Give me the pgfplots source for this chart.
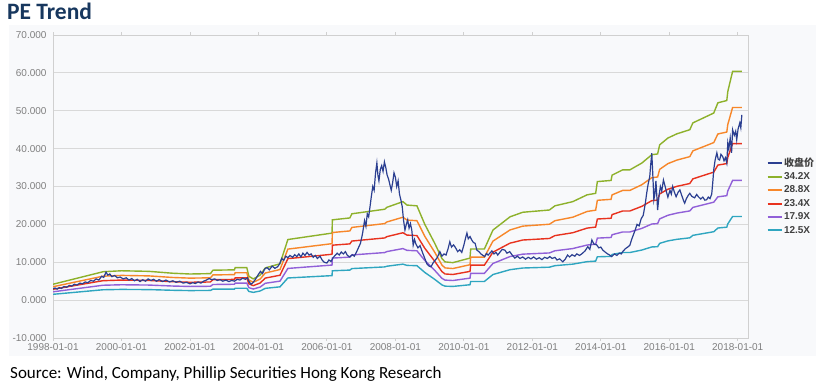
\documentclass[border=0pt]{standalone}
\usepackage{fontspec}
\setmainfont{Liberation Sans}
\newfontfamily\calibri{Carlito}
\newfontfamily\cjk{Noto Sans CJK SC}
\usepackage{pgfplots}
\usepackage{pgfplotstable}
\pgfplotsset{compat=1.18}
\usetikzlibrary{backgrounds}

\definecolor{bgc}{HTML}{F8F9FB}
\definecolor{titlec}{HTML}{17375E}
\definecolor{cclose}{HTML}{2B3F91}
\definecolor{cgreen}{HTML}{8DB12B}
\definecolor{corange}{HTML}{F7872A}
\definecolor{cred}{HTML}{E8321E}
\definecolor{cpurple}{HTML}{9160D8}
\definecolor{cteal}{HTML}{2FA6C0}
\definecolor{gridc}{HTML}{D9D9D9}
\definecolor{axisc}{HTML}{D0D0D0}
\definecolor{tickc}{HTML}{808080}
\definecolor{legc}{HTML}{404040}

\pgfplotstableread{
year g o r p t
1998.00 4.2 3.54 2.87 2.20 1.54
1999.46 7.5 6.32 5.13 3.93 2.74
2000.00 7.75 6.53 5.30 4.06 2.83
2000.80 7.6 6.40 5.20 3.98 2.78
2001.50 7.1 5.98 4.86 3.72 2.60
2002.00 6.9 5.81 4.72 3.61 2.52
2002.60 7.0 5.89 4.79 3.66 2.56
2002.67 7.9 6.65 5.41 4.13 2.89
2003.30 8.0 6.74 5.47 4.19 2.92
2003.32 8.6 7.24 5.88 4.50 3.14
2003.66 8.6 7.24 5.88 4.50 3.14
2003.72 6.3 5.31 4.31 3.30 2.30
2003.85 5.6 4.72 3.83 2.93 2.05
2004.05 6.6 5.56 4.52 3.45 2.41
2004.20 8.5 7.16 5.82 4.45 3.11
2004.63 9.6 8.08 6.57 5.02 3.51
2004.86 16.0 13.47 10.95 8.37 5.85
2006.15 17.7 14.91 12.11 9.26 6.47
2006.16 21.2 17.85 14.51 11.10 7.75
2006.67 21.7 18.27 14.85 11.36 7.93
2006.73 22.8 19.20 15.60 11.93 8.33
2007.69 24.0 20.21 16.42 12.56 8.77
2007.75 24.5 20.63 16.76 12.82 8.95
2008.22 26.0 21.89 17.79 13.61 9.50
2008.34 25.1 21.14 17.17 13.14 9.17
2008.63 24.9 20.97 17.04 13.03 9.10
2008.86 20.0 16.84 13.68 10.47 7.31
2009.15 15.0 12.63 10.26 7.85 5.48
2009.36 11.0 9.26 7.53 5.76 4.02
2009.45 10.1 8.51 6.91 5.29 3.69
2009.68 9.9 8.34 6.77 5.18 3.62
2010.18 11.1 9.35 7.59 5.81 4.06
2010.20 13.5 11.37 9.24 7.07 4.93
2010.60 13.5 11.37 9.24 7.07 4.93
2010.85 18.5 15.58 12.66 9.68 6.76
2011.35 22.0 18.53 15.05 11.51 8.04
2011.72 23.2 19.54 15.87 12.14 8.48
2012.50 23.8 20.04 16.28 12.46 8.70
2012.66 24.9 20.97 17.04 13.03 9.10
2013.18 26.0 21.89 17.79 13.61 9.50
2013.60 27.8 23.41 19.02 14.55 10.16
2013.85 28.2 23.75 19.29 14.76 10.31
2013.90 31.3 26.36 21.42 16.38 11.44
2014.30 31.6 26.61 21.62 16.54 11.55
2014.33 33.0 27.79 22.58 17.27 12.06
2014.64 34.4 28.97 23.54 18.00 12.57
2014.85 34.4 28.97 23.54 18.00 12.57
2015.20 36.2 30.48 24.77 18.95 13.23
2015.49 38.4 32.34 26.27 20.10 14.04
2015.66 38.6 32.51 26.41 20.20 14.11
2015.72 41.0 34.53 28.05 21.46 14.99
2015.96 42.8 36.04 29.28 22.40 15.64
2016.22 43.9 36.97 30.04 22.98 16.05
2016.60 45.0 37.89 30.79 23.55 16.45
2016.69 46.8 39.41 32.02 24.49 17.11
2017.30 49.4 41.60 33.80 25.86 18.06
2017.42 52.1 43.87 35.65 27.27 19.04
2017.68 52.7 44.38 36.06 27.58 19.26
2017.71 55.1 46.40 37.70 28.84 20.14
2017.85 60.4 50.86 41.33 31.61 22.08
2018.12 60.4 50.86 41.33 31.61 22.08
}\bands

\pgfplotstableread{
year v
1998.00 3.0
1998.06 3.2
1998.12 2.9
1998.18 3.3
1998.25 3.1
1998.32 3.6
1998.40 3.4
1998.48 3.9
1998.55 3.7
1998.62 4.2
1998.70 4.0
1998.79 4.5
1998.86 4.3
1998.94 4.8
1999.02 4.6
1999.10 5.2
1999.18 5.0
1999.26 5.6
1999.34 5.3
1999.42 6.3
1999.48 6.0
1999.55 7.4
1999.60 6.6
1999.66 6.9
1999.72 6.2
1999.80 6.5
1999.88 5.9
1999.96 6.1
2000.05 5.6
2000.14 5.9
2000.22 5.3
2000.30 5.7
2000.38 5.1
2000.46 5.5
2000.54 4.9
2000.62 5.4
2000.70 5.0
2000.78 5.6
2000.86 5.2
2000.94 5.5
2001.02 5.0
2001.10 5.4
2001.20 4.9
2001.30 5.3
2001.40 4.8
2001.50 5.1
2001.60 4.7
2001.70 5.0
2001.80 4.5
2001.90 4.7
2002.00 4.3
2002.08 4.6
2002.16 4.4
2002.24 4.8
2002.32 4.5
2002.40 5.0
2002.48 5.3
2002.56 5.7
2002.64 5.4
2002.72 5.6
2002.80 5.2
2002.88 5.4
2002.96 5.0
2003.05 5.3
2003.14 4.9
2003.22 5.2
2003.30 5.0
2003.38 5.5
2003.46 5.3
2003.54 5.8
2003.62 5.5
2003.68 5.9
2003.72 5.0
2003.78 4.2
2003.84 4.6
2003.92 5.6
2004.00 6.8
2004.06 7.6
2004.12 7.0
2004.18 8.2
2004.25 8.6
2004.32 8.0
2004.40 9.0
2004.48 8.4
2004.56 8.8
2004.62 9.6
2004.68 11.0
2004.74 10.5
2004.80 11.6
2004.86 11.2
2004.92 11.8
2005.00 11.3
2005.06 12.0
2005.12 11.5
2005.18 12.2
2005.24 11.4
2005.30 12.4
2005.36 11.8
2005.42 12.6
2005.48 11.9
2005.54 12.2
2005.60 11.3
2005.66 11.8
2005.72 11.0
2005.80 11.6
2005.86 10.6
2005.92 10.0
2006.00 9.8
2006.06 10.6
2006.12 10.2
2006.18 11.2
2006.24 11.8
2006.30 12.4
2006.36 11.9
2006.42 12.7
2006.48 12.2
2006.54 12.8
2006.60 11.8
2006.67 11.4
2006.74 12.0
2006.80 11.6
2006.86 12.6
2006.92 13.8
2006.98 15.0
2007.04 17.5
2007.10 21.0
2007.14 19.5
2007.18 22.8
2007.22 22.0
2007.26 24.7
2007.30 27.5
2007.34 30.0
2007.38 29.0
2007.42 33.5
2007.46 36.2
2007.49 33.0
2007.52 31.5
2007.56 34.5
2007.60 35.5
2007.64 34.0
2007.68 36.5
2007.72 35.0
2007.76 33.0
2007.80 32.0
2007.84 30.5
2007.88 29.0
2007.92 31.0
2007.96 33.6
2008.00 32.5
2008.04 30.0
2008.08 31.5
2008.12 28.0
2008.16 26.5
2008.20 24.7
2008.24 21.0
2008.28 18.5
2008.32 20.0
2008.36 21.2
2008.40 19.0
2008.44 20.2
2008.48 18.5
2008.52 14.5
2008.56 16.0
2008.60 14.8
2008.66 13.8
2008.72 14.4
2008.80 12.4
2008.86 11.0
2008.92 9.6
2008.98 9.0
2009.04 8.8
2009.10 9.8
2009.16 10.5
2009.22 11.2
2009.30 12.8
2009.36 11.6
2009.42 12.2
2009.48 11.9
2009.54 13.6
2009.59 15.4
2009.64 14.0
2009.70 14.6
2009.76 13.8
2009.82 12.8
2009.88 13.3
2009.94 12.6
2010.00 14.5
2010.05 16.4
2010.09 17.7
2010.13 16.2
2010.18 16.8
2010.23 15.9
2010.28 15.2
2010.33 15.0
2010.38 13.2
2010.44 12.8
2010.50 12.2
2010.56 11.8
2010.61 11.5
2010.66 12.3
2010.71 11.9
2010.76 12.4
2010.82 13.0
2010.88 12.2
2010.94 12.6
2010.99 11.9
2011.05 12.6
2011.12 13.4
2011.20 13.2
2011.26 12.4
2011.34 12.8
2011.42 11.8
2011.49 11.1
2011.56 11.6
2011.64 11.0
2011.72 11.4
2011.80 10.8
2011.88 11.3
2011.96 10.9
2012.04 11.4
2012.12 10.8
2012.20 11.2
2012.28 10.7
2012.36 11.3
2012.44 11.0
2012.51 11.5
2012.58 11.0
2012.66 11.3
2012.72 10.6
2012.80 10.9
2012.89 10.1
2012.96 10.8
2013.03 11.9
2013.09 11.4
2013.16 12.0
2013.24 11.6
2013.30 12.2
2013.38 11.8
2013.47 12.4
2013.54 13.0
2013.62 14.1
2013.68 13.4
2013.74 15.9
2013.80 14.8
2013.88 14.6
2013.94 13.8
2014.00 14.0
2014.06 13.2
2014.14 12.6
2014.20 12.2
2014.26 11.9
2014.32 11.5
2014.40 12.2
2014.47 11.8
2014.54 12.4
2014.60 12.2
2014.64 12.8
2014.72 13.6
2014.80 14.1
2014.85 14.5
2014.90 16.0
2014.95 17.2
2015.00 18.4
2015.06 20.0
2015.12 19.6
2015.18 21.5
2015.24 22.4
2015.30 25.5
2015.34 28.2
2015.38 30.5
2015.43 32.6
2015.46 36.0
2015.49 38.8
2015.52 33.0
2015.55 26.5
2015.58 28.0
2015.61 31.5
2015.64 27.0
2015.66 23.8
2015.70 27.5
2015.74 30.0
2015.78 28.8
2015.83 31.7
2015.88 30.0
2015.92 28.5
2015.96 27.2
2016.02 29.0
2016.06 28.0
2016.10 30.0
2016.15 28.5
2016.20 27.3
2016.26 28.5
2016.31 29.1
2016.37 27.5
2016.42 26.2
2016.45 25.6
2016.50 26.8
2016.55 27.6
2016.60 28.2
2016.66 27.4
2016.74 27.0
2016.80 27.9
2016.86 27.2
2016.92 26.7
2016.98 27.2
2017.04 26.4
2017.09 26.5
2017.14 27.2
2017.19 26.8
2017.24 28.0
2017.27 31.0
2017.30 34.5
2017.34 37.0
2017.39 38.9
2017.43 37.2
2017.47 37.0
2017.51 38.5
2017.56 37.9
2017.60 36.8
2017.64 37.6
2017.68 36.2
2017.71 41.5
2017.74 40.0
2017.78 42.8
2017.82 38.9
2017.85 45.0
2017.90 43.5
2017.94 44.6
2017.97 42.3
2018.01 45.2
2018.06 46.8
2018.09 45.5
2018.12 48.9
}\closep

\begin{document}
\begin{tikzpicture}
\useasboundingbox (0pt,0pt) rectangle (816pt,384pt);
\begin{scope}[on background layer]
\fill[bgc] (9pt,28pt) rectangle (816pt,359pt);
\end{scope}
\begin{axis}[
  at={(53pt,46pt)}, anchor=south west,
  scale only axis, width=695pt, height=303pt,
  xmin=1998, xmax=2018.3, ymin=-10, ymax=70,
  xtick={1998,2000,...,2018},
  xticklabels={1998-01-01,2000-01-01,2002-01-01,2004-01-01,2006-01-01,2008-01-01,2010-01-01,2012-01-01,2014-01-01,2016-01-01,2018-01-01},
  ytick={-10,0,...,70},
  yticklabel style={/pgf/number format/.cd, fixed, fixed zerofill, precision=3, 1000 sep={}, assume math mode=true},
  ticklabel style={font=\fontsize{10}{12}\selectfont, text=tickc},
  xticklabel style={yshift=1pt},
  ymajorgrids, grid style={gridc, line width=1pt},
  axis line style={axisc, line width=1pt},
  tick align=outside, xtick style={axisc, line width=0.8pt}, major tick length=3pt,
  ytick style={draw=none},
  clip=true,
  legend style={at={(1.022,0.608)}, anchor=north west, draw=none, fill=none,
    font=\fontsize{10}{12}\selectfont\bfseries, row sep=1.9pt,
    nodes={inner sep=1.5pt, text=legc}},
  legend cell align=left,
  legend image code/.code={\draw[#1, line width=2pt] (0pt,0pt) -- (14pt,0pt);},
]
\addlegendimage{cclose}
\addlegendentry{{\cjk 收盘价}}
\addplot[cgreen, line width=1.4pt] table[x=year,y=g]{\bands};
\addlegendentry{34.2X}
\addplot[corange, line width=1.4pt] table[x=year,y=o]{\bands};
\addlegendentry{28.8X}
\addplot[cred, line width=1.4pt] table[x=year,y=r]{\bands};
\addlegendentry{23.4X}
\addplot[cpurple, line width=1.4pt] table[x=year,y=p]{\bands};
\addlegendentry{17.9X}
\addplot[cteal, line width=1.4pt] table[x=year,y=t]{\bands};
\addlegendentry{12.5X}
\addplot[cclose, line width=1.2pt, forget plot] table[x=year,y=v]{\closep};
\end{axis}
\node[anchor=base west, inner sep=0, text=titlec, font=\calibri\bfseries\fontsize{23.5}{26}\selectfont] at (7pt,365pt) {PE Trend};
\node[anchor=base west, inner sep=0, font=\calibri\fontsize{17}{20}\selectfont] at (10pt,6pt) {Source: Wind, Company, Phillip Securities Hong Kong Research};
\end{tikzpicture}
\end{document}
